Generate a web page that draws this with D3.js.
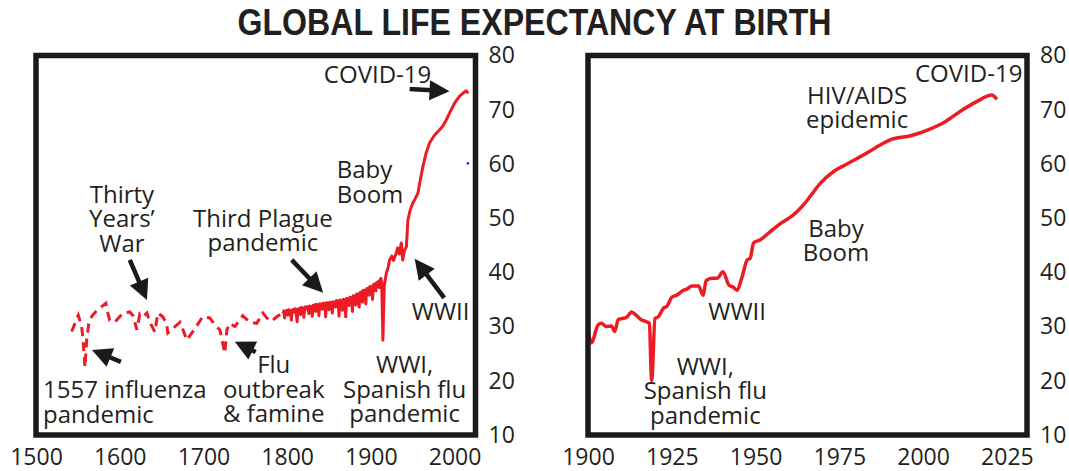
<!DOCTYPE html>
<html>
<head>
<meta charset="utf-8">
<script src="https://cdnjs.cloudflare.com/ajax/libs/d3/7.8.5/d3.min.js"></script>
<style>
  body { margin: 0; background: #fff; }
  text { font-family: "Open Sans", "Liberation Sans", sans-serif; fill: #231f20; }
</style>
</head>
<body>
<div id="chart"></div>
<script>
// tick labels
var leftTicksX = [1500, 1600, 1700, 1800, 1900, 2000];
var rightTicksX = [1900, 1925, 1950, 1975, 2000, 2025];
var ticksY = [10, 20, 30, 40, 50, 60, 70, 80];

// long run series, sparse early estimates (drawn dashed)
var earlyYears = [1542.6, 1550.5, 1554.5, 1556, 1558.5, 1560.5, 1563, 1567, 1573, 1583.5, 1585, 1588, 1594, 1604, 1612, 1616, 1620.5, 1624, 1627.7, 1632.5, 1636, 1642, 1645.6, 1651.5, 1656, 1657.5, 1666, 1672, 1675.4, 1680, 1687, 1695.7, 1699, 1707.6, 1713.6, 1719.6, 1723, 1725.5, 1728, 1731.5, 1737.5, 1747, 1755.4, 1763.7, 1771, 1779, 1783, 1787.6, 1794.7];
var earlyValues = [29.1, 32.1, 30.0, 28.0, 22.5, 27.5, 30.5, 32.0, 33.0, 34.3, 33.0, 31.2, 30.8, 32.5, 32.7, 32.0, 29.4, 32.3, 31.8, 32.5, 30.8, 29.0, 32.5, 31.8, 30.5, 28.8, 30.0, 30.8, 29.5, 27.5, 29.0, 31.0, 31.8, 31.6, 30.3, 29.4, 27.0, 25.1, 29.4, 30.6, 30.0, 32.0, 30.8, 30.6, 32.5, 31.0, 31.2, 31.8, 32.5];

// long run series, annual data (drawn solid)
var lateYears = [1795, 1796, 1797, 1798, 1800, 1801, 1802, 1804, 1805, 1806, 1808, 1809, 1810, 1812, 1813, 1815, 1816, 1817, 1819, 1820, 1821, 1823, 1824, 1826, 1827, 1829, 1830, 1831, 1833, 1834, 1835, 1837, 1838, 1839, 1841, 1842, 1843, 1845, 1846, 1847, 1849, 1850, 1851, 1853, 1854, 1855, 1857, 1858, 1859, 1861, 1862, 1863, 1865, 1866, 1867, 1869, 1870, 1871, 1873, 1874, 1875, 1877, 1878, 1879, 1881, 1882, 1883, 1885, 1886, 1887, 1889, 1890, 1891, 1893, 1894, 1895, 1897, 1898, 1899, 1901, 1902, 1903, 1905, 1906, 1907, 1909, 1910, 1911, 1912, 1913, 1914.4, 1916, 1918.5, 1920.5, 1922.4, 1925, 1927, 1930.4, 1932, 1934, 1936.4, 1938, 1940, 1942.4, 1944.3, 1947, 1950.2, 1953, 1956.2, 1959, 1962.2, 1966, 1970.2, 1976, 1982.1, 1986, 1990.1, 1995, 2000, 2006, 2012, 2014, 2016];
var lateValues = [32.4, 32.9, 31.6, 32.8, 33.0, 32.1, 33.1, 32.9, 31.2, 33.0, 33.2, 32.6, 33.3, 30.9, 33.2, 33.4, 32.2, 33.5, 33.3, 31.7, 33.6, 33.4, 33.7, 32.4, 33.8, 33.6, 31.9, 33.9, 34.0, 32.8, 34.1, 33.9, 32.0, 34.2, 34.1, 33.2, 34.3, 34.2, 31.8, 34.4, 34.3, 33.1, 34.5, 34.4, 32.5, 34.6, 34.5, 33.6, 34.8, 34.6, 31.9, 34.9, 34.7, 33.0, 35.0, 34.9, 31.8, 35.2, 35.0, 33.9, 35.4, 35.3, 32.8, 35.7, 35.6, 34.0, 36.0, 35.9, 33.6, 36.3, 36.4, 34.5, 36.7, 36.6, 34.2, 37.0, 37.1, 35.8, 37.4, 37.3, 35.0, 37.7, 37.9, 36.6, 38.1, 38.3, 37.2, 38.6, 38.9, 37.8, 27.5, 37.5, 39.9, 40.8, 42.3, 43.0, 42.2, 43.6, 44.5, 43.4, 45.4, 42.3, 44.0, 44.7, 49.7, 51.5, 52.8, 53.6, 54.6, 57.0, 59.5, 62.0, 63.9, 65.3, 66.3, 67.0, 68.1, 69.7, 71.2, 72.5, 73.3, 73.5, 73.0];

// 1900 onwards
var recentYears = [1900, 1901, 1903, 1904, 1905.5, 1907, 1908, 1909, 1911.5, 1913, 1914.5, 1916, 1917.5, 1918.3, 1919, 1920, 1921, 1922.5, 1923.5, 1925, 1926.5, 1928.5, 1929.5, 1931, 1933, 1934.3, 1935.3, 1937, 1938.5, 1940.3, 1942, 1943.5, 1944.4, 1946, 1947.5, 1948.4, 1949.4, 1951.4, 1954.4, 1957.4, 1961.3, 1963.8, 1966.3, 1969.3, 1973.3, 1977.3, 1983.2, 1987.2, 1990, 1996.3, 2001.5, 2006.6, 2011.8, 2016, 2020.5, 2022];
var recentValues = [29.5, 27.0, 30.3, 30.6, 30.0, 30.1, 29.1, 31.3, 31.7, 32.7, 32.0, 31.2, 30.9, 30.6, 20.1, 31.5, 31.8, 33.4, 33.7, 35.4, 35.8, 36.7, 36.9, 37.5, 37.5, 35.8, 38.5, 38.9, 38.9, 40.1, 37.7, 37.2, 36.7, 39.2, 42.3, 42.6, 45.4, 46.0, 47.5, 49.0, 50.6, 52.1, 54.0, 56.4, 58.6, 60.0, 62.0, 63.5, 64.4, 65.2, 66.3, 67.8, 70.0, 71.5, 72.7, 71.9];

// annotations (anchor in year / years of life)
var leftNotes = [
  {lines: ["COVID-19"], year: 1908, value: 74.9, anchor: "middle"},
  {lines: ["Baby", "Boom"], year: 1859.2, value: 57.4, anchor: "start"},
  {lines: ["Thirty", "Years’", "War"], year: 1602.6, value: 52.8, anchor: "middle"},
  {lines: ["Third Plague", "pandemic"], year: 1771, value: 48.4, anchor: "middle"},
  {lines: ["WWII"], year: 1983.3, value: 31.2, anchor: "middle"},
  {lines: ["WWI,", "Spanish flu", "pandemic"], year: 1940.3, value: 21.4, anchor: "middle"},
  {lines: ["Flu", "outbreak", "& famine"], year: 1784, value: 21.4, anchor: "middle"},
  {lines: ["1557 influenza", "pandemic"], year: 1508.4, value: 16.8, anchor: "start"}
];
var leftArrows = [
  {from: [1946.3, 73.8], to: [1994, 73.4]},
  {from: [1612, 42.3], to: [1632.5, 34.9]},
  {from: [1805.5, 42.3], to: [1843, 36.25]},
  {from: [1987.6, 35.3], to: [1952.3, 42.5]},
  {from: [1762.5, 25.3], to: [1737.5, 27.2]},
  {from: [1601.4, 23.5], to: [1566.8, 25.7]}
];
var rightNotes = [
  {lines: ["COVID-19"], year: 2013.6, value: 75.2, anchor: "middle"},
  {lines: ["HIV/AIDS", "epidemic"], year: 1980.3, value: 71.06, anchor: "middle"},
  {lines: ["Baby", "Boom"], year: 1974, value: 46.6, anchor: "middle"},
  {lines: ["WWII"], year: 1944.5, value: 31.2, anchor: "middle"},
  {lines: ["WWI,", "Spanish flu", "pandemic"], year: 1935, value: 21.07, anchor: "middle"}
];

var width = 1069, height = 471;
var red = "#ed1c24";

var svg = d3.select("#chart").append("svg")
  .attr("width", width)
  .attr("height", height);

// title
svg.append("text")
  .attr("x", width / 2)
  .attr("y", 35)
  .attr("text-anchor", "middle")
  .attr("font-size", 36)
  .attr("font-weight", "bold")
  .style("font-family", "'Liberation Sans', sans-serif")
  .attr("textLength", 594)
  .attr("lengthAdjust", "spacingAndGlyphs")
  .text("GLOBAL LIFE EXPECTANCY AT BIRTH");

var y = d3.scaleLinear().domain([10, 80]).range([435, 55.5]);
var xL = d3.scaleLinear().domain([1500, 2025]).range([36, 475.5]);
var xR = d3.scaleLinear().domain([1900, 2031]).range([588, 1027]);

function zip(a, b) { return a.map(function(d, i) { return [d, b[i]]; }); }

function drawPanel(x, xticks) {
  var g = svg.append("g");
  g.append("g")
    .attr("transform", "translate(0," + y(10) + ")")
    .call(d3.axisBottom(x).tickValues(xticks).tickSize(0).tickPadding(13.5).tickFormat(d3.format("d")))
    .call(function(a) { a.select(".domain").remove(); })
    .selectAll("text").attr("font-size", 23).attr("font-family", null).attr("fill", "#231f20");
  g.append("g")
    .attr("transform", "translate(" + x.range()[1] + ",0)")
    .call(d3.axisRight(y).tickValues(ticksY).tickSize(0).tickPadding(13))
    .call(function(a) { a.select(".domain").remove(); })
    .selectAll("text").attr("font-size", 23).attr("font-family", null).attr("fill", "#231f20");
  return g;
}

function frame(g, x) {
  g.append("rect")
    .attr("x", x.range()[0])
    .attr("y", y(80))
    .attr("width", x.range()[1] - x.range()[0])
    .attr("height", y(10) - y(80))
    .attr("fill", "none")
    .attr("stroke", "#1a1a1a")
    .attr("stroke-width", 5.5);
}

function notes(g, x, list) {
  list.forEach(function(n) {
    var t = g.append("text")
      .attr("x", x(n.year))
      .attr("y", y(n.value))
      .attr("text-anchor", n.anchor)
      .attr("font-size", 24);
    n.lines.forEach(function(s, i) {
      t.append("tspan")
        .attr("x", x(n.year))
        .attr("dy", i == 0 ? 0 : 24.5)
        .text(s);
    });
  });
}

function arrows(g, x, list) {
  list.forEach(function(a) {
    var x1 = x(a.from[0]), y1 = y(a.from[1]);
    var x2 = x(a.to[0]), y2 = y(a.to[1]);
    var ang = Math.atan2(y2 - y1, x2 - x1);
    var len = 20, hw = 10;
    var bx = x2 - len * Math.cos(ang), by = y2 - len * Math.sin(ang);
    g.append("line")
      .attr("x1", x1).attr("y1", y1)
      .attr("x2", bx + 2 * Math.cos(ang)).attr("y2", by + 2 * Math.sin(ang))
      .attr("stroke", "#1a1a1a")
      .attr("stroke-width", 4.5);
    g.append("path")
      .attr("d", "M" + x2 + "," + y2 +
        "L" + (bx + hw * Math.sin(ang)) + "," + (by - hw * Math.cos(ang)) +
        "L" + (bx - hw * Math.sin(ang)) + "," + (by + hw * Math.cos(ang)) + "Z")
      .attr("fill", "#1a1a1a");
  });
}

// left panel: 1500 onwards
var left = drawPanel(xL, leftTicksX);
var lineL = d3.line().x(function(d) { return xL(d[0]); }).y(function(d) { return y(d[1]); });
left.append("path")
  .attr("d", lineL(zip(earlyYears, earlyValues)))
  .attr("fill", "none")
  .attr("stroke", red)
  .attr("stroke-width", 3)
  .attr("stroke-dasharray", "9,6");
left.append("path")
  .attr("d", lineL(zip(lateYears, lateValues)))
  .attr("fill", "none")
  .attr("stroke", red)
  .attr("stroke-width", 3)
  .attr("stroke-linejoin", "round");
// stray blue speck in the source image
left.append("circle")
  .attr("cx", xL(2015.9)).attr("cy", y(60.1)).attr("r", 1.3)
  .attr("fill", "#1f2bd8");
notes(left, xL, leftNotes);
arrows(left, xL, leftArrows);
frame(left, xL);

// right panel: 1900 onwards
var right = drawPanel(xR, rightTicksX);
var lineR = d3.line().curve(d3.curveMonotoneX)
  .x(function(d) { return xR(d[0]); }).y(function(d) { return y(d[1]); });
right.append("path")
  .attr("d", lineR(zip(recentYears, recentValues)))
  .attr("fill", "none")
  .attr("stroke", red)
  .attr("stroke-width", 3.5)
  .attr("stroke-linejoin", "round");
notes(right, xR, rightNotes);
frame(right, xR);
</script>
</body>
</html>
